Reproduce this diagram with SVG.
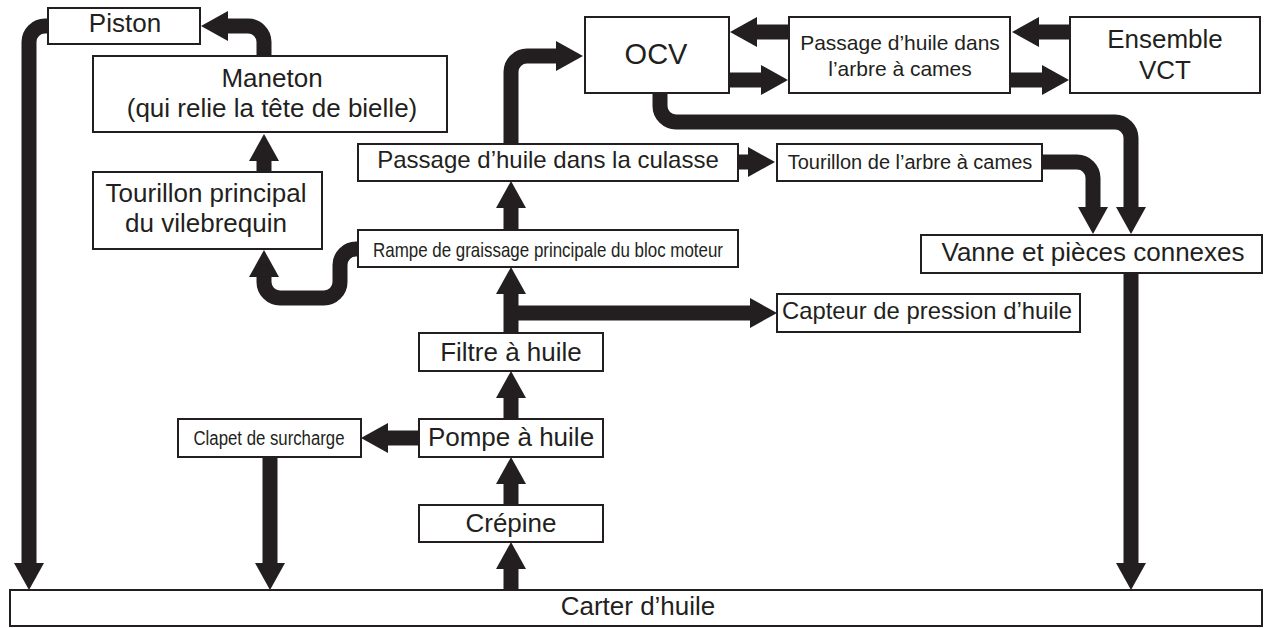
<svg xmlns="http://www.w3.org/2000/svg" width="1265" height="628" viewBox="0 0 1265 628">
<style>
.box{fill:#fff;stroke:#231f20;stroke-width:2}
.t{font-family:"Liberation Sans",Arial,sans-serif;fill:#231f20;text-anchor:middle}
.c{fill:none;stroke:#231f20;stroke-width:15;marker-end:url(#ah)}
</style>
<defs>
<marker id="ah" markerUnits="userSpaceOnUse" markerWidth="28" markerHeight="30" refX="0" refY="15" orient="auto" viewBox="0 0 28 30">
<path d="M0,0 L27,15 L0,30 z" fill="#231f20"/>
</marker>
</defs>
<rect width="1265" height="628" fill="#fff"/>
<g id="connectors">
<path class="c" d="M48,26 H45 A16,16 0 0 0 29,42 V563"/>
<path class="c" d="M264,56 V42 A16,16 0 0 0 248,26 H228"/>
<path class="c" d="M264,172 V161"/>
<path class="c" d="M358,249 H356 A16,16 0 0 0 340,265 V282 A16,16 0 0 1 324,298 H280 A16,16 0 0 1 264,282 V277"/>
<path class="c" d="M511,230 V208"/>
<path class="c" d="M511,144 V72 A16,16 0 0 1 527,56 H556"/>
<path class="c" d="M789,32 H757"/>
<path class="c" d="M729,80 H761"/>
<path class="c" d="M1070,32 H1039"/>
<path class="c" d="M1010,80 H1042"/>
<path class="c" d="M660,93 V106 A16,16 0 0 0 676,122 H1115 A16,16 0 0 1 1131,138 V207"/>
<path class="c" d="M738,162 H748"/>
<path class="c" d="M1042,162 H1077 A16,16 0 0 1 1093,178 V207"/>
<path class="c" d="M1131,273 V563"/>
<path class="c" d="M511,333 V294"/>
<path class="c" d="M511,313 H750"/>
<path class="c" d="M511,419 V398"/>
<path class="c" d="M419,438 H388"/>
<path class="c" d="M270,457 V563"/>
<path class="c" d="M511,505 V484"/>
<path class="c" d="M511,590 V569"/>
</g>
<g id="piston"><rect class="box" x="48" y="8" width="152" height="36"/><text class="t" x="125" y="32" font-size="26">Piston</text></g>
<g id="maneton"><rect class="box" x="93" y="56" width="354" height="76"/><text class="t" x="272" y="87" font-size="26">Maneton</text><text class="t" x="272" y="117" font-size="26">(qui relie la tête de bielle)</text></g>
<g id="tourillon-principal"><rect class="box" x="93" y="172" width="229" height="77"/><text class="t" x="206" y="202" font-size="26">Tourillon principal</text><text class="t" x="206" y="232" font-size="26">du vilebrequin</text></g>
<g id="passage-culasse"><rect class="box" x="358" y="144" width="380" height="37"/><text class="t" x="548" y="168" font-size="24">Passage d’huile dans la culasse</text></g>
<g id="rampe"><rect class="box" x="358" y="230" width="380" height="37"/><text class="t" x="548" y="257" font-size="21" textLength="350" lengthAdjust="spacingAndGlyphs">Rampe de graissage principale du bloc moteur</text></g>
<g id="ocv"><rect class="box" x="585" y="17" width="144" height="76"/><text class="t" x="656" y="64" font-size="29">OCV</text></g>
<g id="passage-arbre"><rect class="box" x="789" y="17" width="221" height="76"/><text class="t" x="900" y="50" font-size="21">Passage d’huile dans</text><text class="t" x="900" y="76" font-size="21">l’arbre à cames</text></g>
<g id="vct"><rect class="box" x="1070" y="17" width="190" height="76"/><text class="t" x="1165" y="48" font-size="26">Ensemble</text><text class="t" x="1165" y="79" font-size="26">VCT</text></g>
<g id="tourillon-arbre"><rect class="box" x="777" y="144" width="265" height="37"/><text class="t" x="910" y="169" font-size="20">Tourillon de l’arbre à cames</text></g>
<g id="vanne"><rect class="box" x="921" y="235" width="341" height="38"/><text class="t" x="1093" y="261" font-size="26">Vanne et pièces connexes</text></g>
<g id="capteur"><rect class="box" x="777" y="294" width="303" height="38"/><text class="t" x="927" y="319" font-size="24" textLength="290" lengthAdjust="spacingAndGlyphs">Capteur de pression d’huile</text></g>
<g id="filtre"><rect class="box" x="419" y="333" width="184" height="38"/><text class="t" x="511" y="361" font-size="26">Filtre à huile</text></g>
<g id="pompe"><rect class="box" x="419" y="419" width="184" height="38"/><text class="t" x="511" y="446" font-size="26">Pompe à huile</text></g>
<g id="clapet"><rect class="box" x="178" y="419" width="183" height="38"/><text class="t" x="269" y="445" font-size="20" textLength="151" lengthAdjust="spacingAndGlyphs">Clapet de surcharge</text></g>
<g id="crepine"><rect class="box" x="419" y="505" width="184" height="37"/><text class="t" x="511" y="532" font-size="26">Crépine</text></g>
<g id="carter"><rect class="box" x="10" y="590" width="1252" height="36"/><text class="t" x="638" y="615" font-size="26">Carter d’huile</text></g>
</svg>
